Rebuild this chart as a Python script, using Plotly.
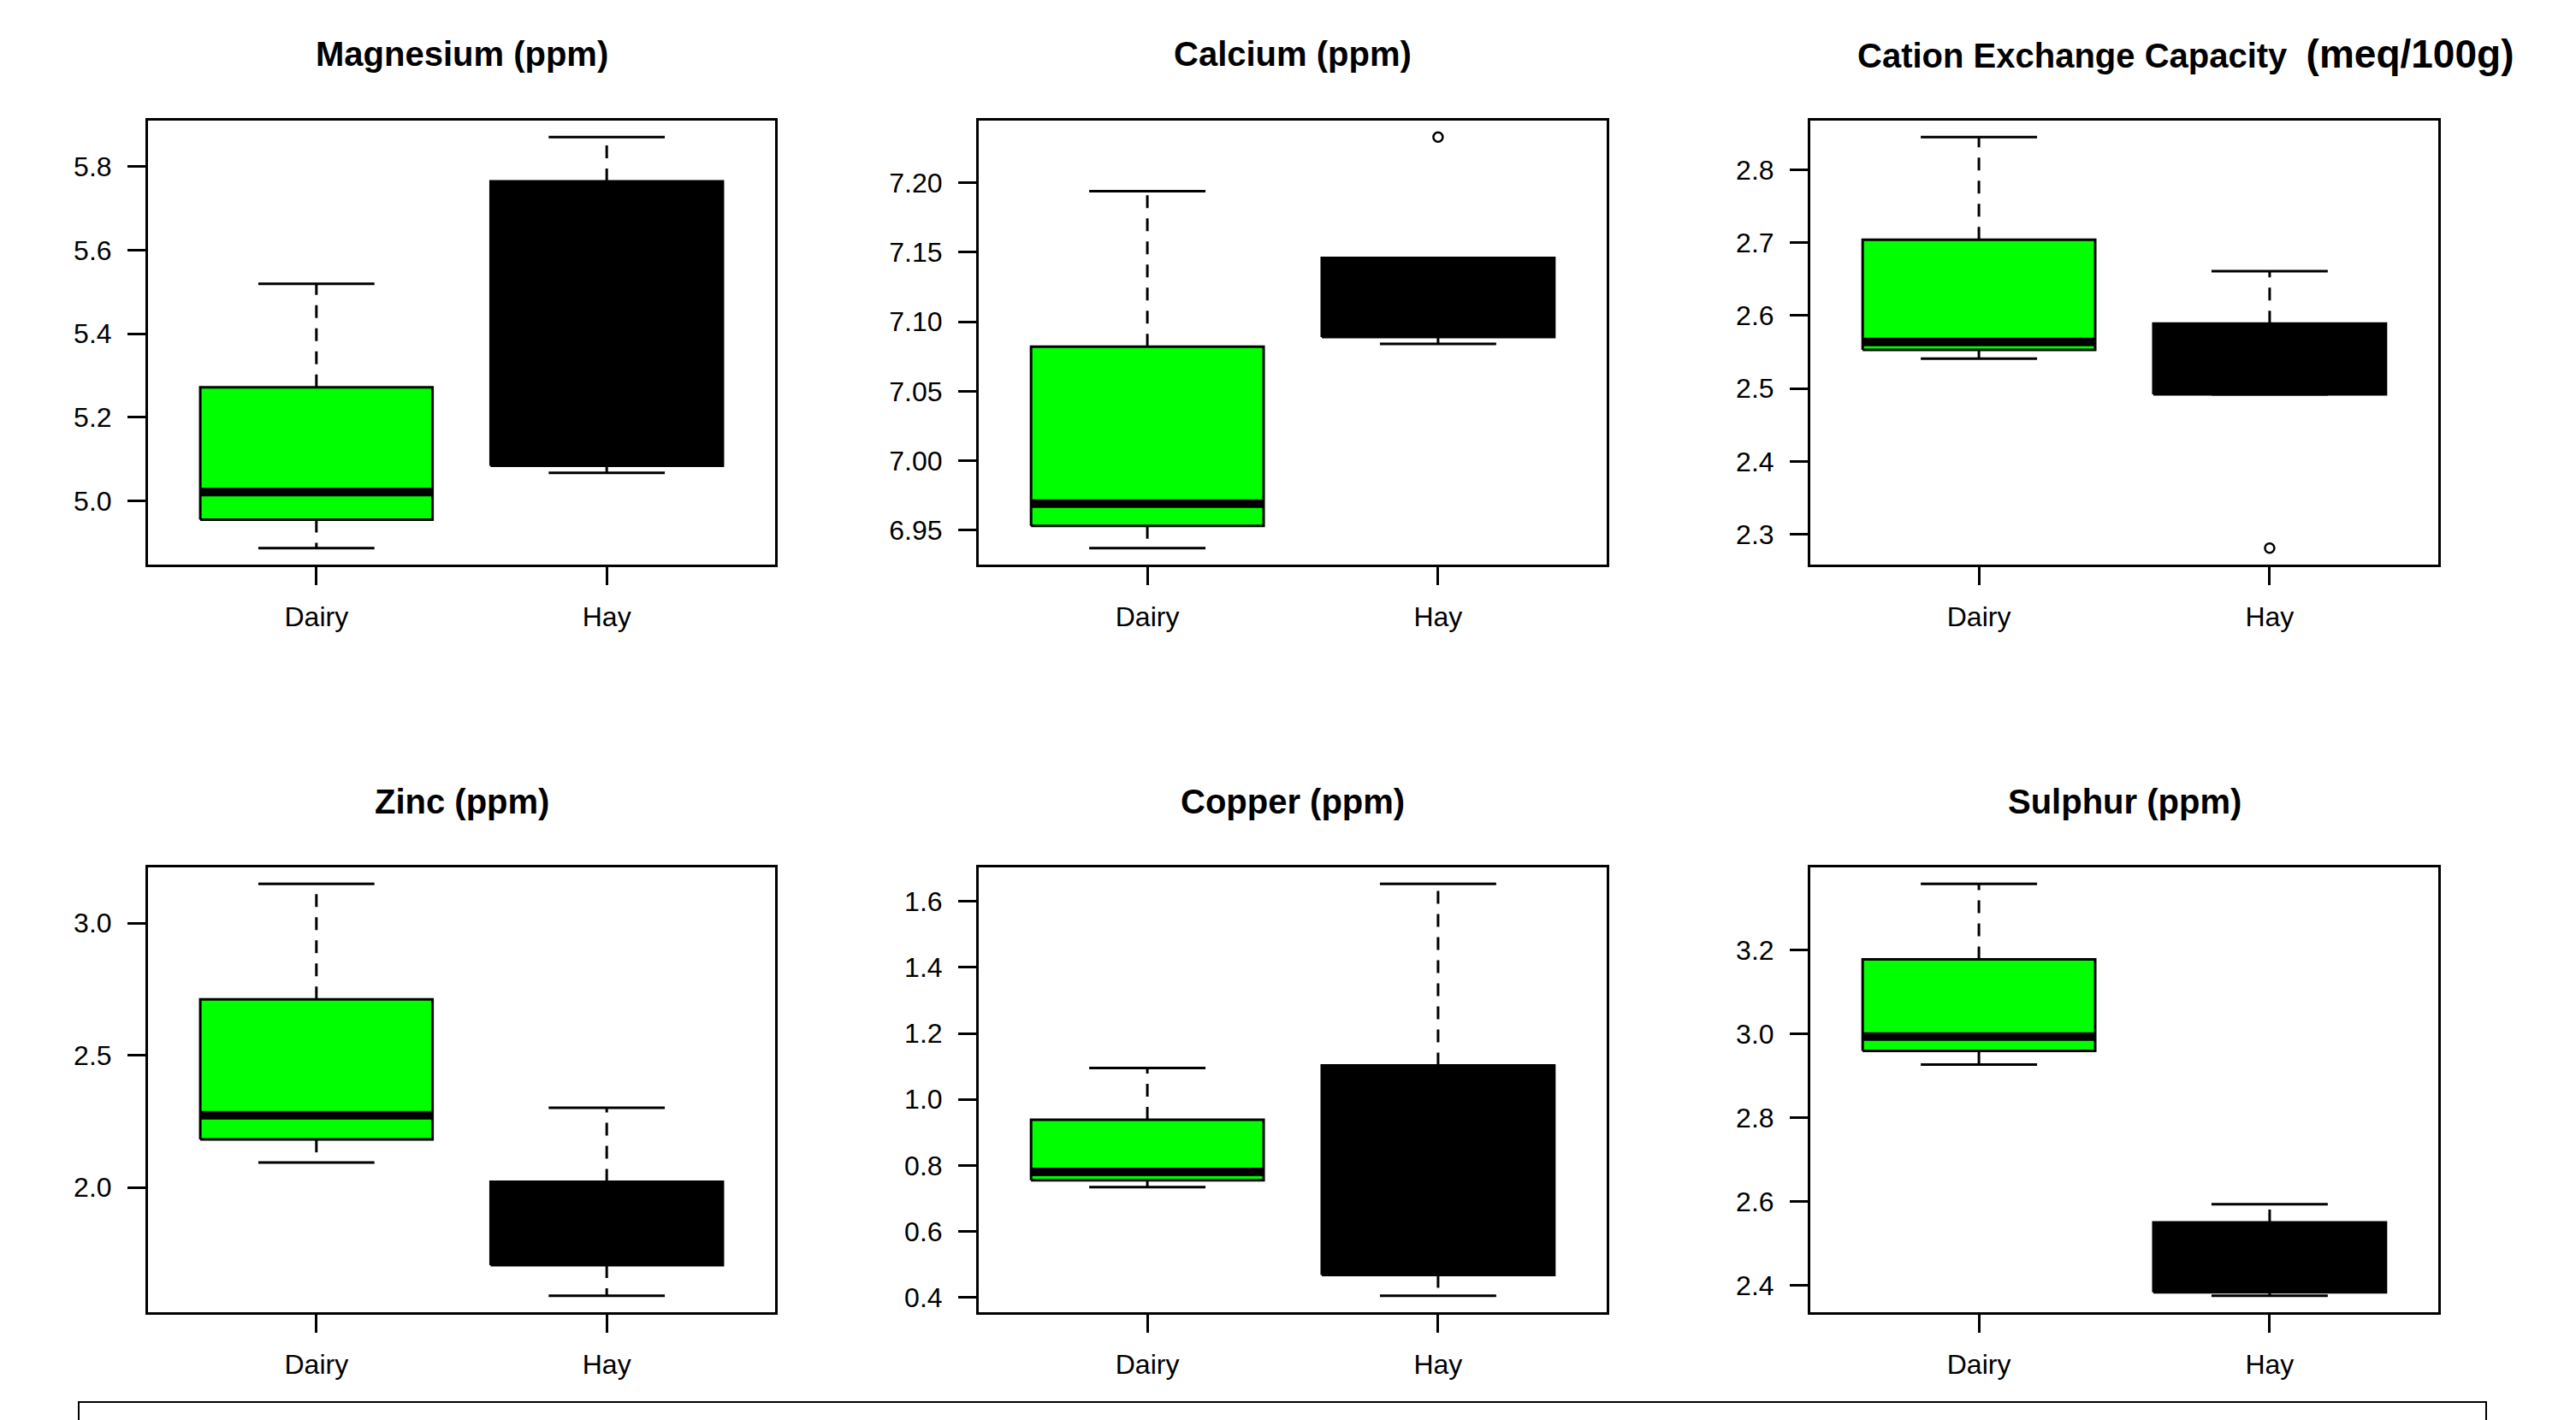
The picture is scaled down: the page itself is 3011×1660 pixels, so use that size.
import plotly.graph_objects as go

W, H = 3011, 1660
FONT = "Liberation Sans, Arial, sans-serif"

groups = ["Dairy", "Hay"]
fills = ["#00FF00", "#000000"]

titles = ["Magnesium (ppm)", "Calcium (ppm)", "Cation Exchange Capacity",
          "Zinc (ppm)", "Copper (ppm)", "Sulphur (ppm)"]
title_extra = ["", "", "(meq/100g)", "", "", ""]

# box statistics per panel, each list = [Dairy, Hay]
lower_whisker = [[4.887, 5.067], [6.937, 7.084], [2.541, 2.492],
                 [2.094, 1.590], [0.734, 0.405], [2.927, 2.376]]
q1 = [[4.955, 5.084], [6.953, 7.089], [2.553, 2.492],
      [2.181, 1.706], [0.755, 0.468], [2.960, 2.384]]
median = [[5.021, 5.450], [6.969, 7.120], [2.564, 2.550],
          [2.273, 1.850], [0.780, 0.750], [2.994, 2.450]]
q3 = [[5.272, 5.765], [7.082, 7.146], [2.704, 2.589],
      [2.711, 2.021], [0.938, 1.103], [3.178, 2.551]]
upper_whisker = [[5.520, 5.871], [7.194, 7.146], [2.845, 2.661],
                 [3.148, 2.301], [1.095, 1.653], [3.358, 2.594]]
outliers = [[[], []], [[], [7.233]], [[], [2.281]],
            [[], []], [[], []], [[], []]]

y_ticks = [[5.0, 5.2, 5.4, 5.6, 5.8],
           [6.95, 7.00, 7.05, 7.10, 7.15, 7.20],
           [2.3, 2.4, 2.5, 2.6, 2.7, 2.8],
           [2.0, 2.5, 3.0],
           [0.4, 0.6, 0.8, 1.0, 1.2, 1.4, 1.6],
           [2.4, 2.6, 2.8, 3.0, 3.2]]
y_tick_labels = [["5.0", "5.2", "5.4", "5.6", "5.8"],
                 ["6.95", "7.00", "7.05", "7.10", "7.15", "7.20"],
                 ["2.3", "2.4", "2.5", "2.6", "2.7", "2.8"],
                 ["2.0", "2.5", "3.0"],
                 ["0.4", "0.6", "0.8", "1.0", "1.2", "1.4", "1.6"],
                 ["2.4", "2.6", "2.8", "3.0", "3.2"]]

# layout (pixels)
col_px = [(173, 906), (1144, 1878), (2116, 2850)]
row_px = [(141, 660), (1014, 1534)]
title_y_px = [63, 937]

BOX_HW = 0.4
CAP_HW = 0.2

fig = go.Figure()
annotations = []

for p in range(6):
    r, c = divmod(p, 3)
    n = p + 1
    xa = "x" if n == 1 else f"x{n}"
    ya = "y" if n == 1 else f"y{n}"
    for g in range(2):
        cx = g + 1
        # whiskers (dashed)
        fig.add_trace(go.Scatter(
            x=[cx, cx, None, cx, cx],
            y=[q3[p][g], upper_whisker[p][g], None, q1[p][g], lower_whisker[p][g]],
            mode="lines", line=dict(color="black", width=3, dash="15px,12px"),
            xaxis=xa, yaxis=ya, showlegend=False, hoverinfo="skip"))
        # caps
        fig.add_trace(go.Scatter(
            x=[cx - CAP_HW, cx + CAP_HW, None, cx - CAP_HW, cx + CAP_HW],
            y=[upper_whisker[p][g], upper_whisker[p][g], None,
               lower_whisker[p][g], lower_whisker[p][g]],
            mode="lines", line=dict(color="black", width=3),
            xaxis=xa, yaxis=ya, showlegend=False, hoverinfo="skip"))
        # box
        fig.add_trace(go.Scatter(
            x=[cx - BOX_HW, cx + BOX_HW, cx + BOX_HW, cx - BOX_HW, cx - BOX_HW],
            y=[q1[p][g], q1[p][g], q3[p][g], q3[p][g], q1[p][g]],
            mode="lines", fill="toself", fillcolor=fills[g],
            line=dict(color="black", width=3),
            xaxis=xa, yaxis=ya, showlegend=False, hoverinfo="skip"))
        # median
        fig.add_trace(go.Scatter(
            x=[cx - BOX_HW, cx + BOX_HW], y=[median[p][g], median[p][g]],
            mode="lines", line=dict(color="black", width=10),
            xaxis=xa, yaxis=ya, showlegend=False, hoverinfo="skip"))
        # outliers
        if outliers[p][g]:
            fig.add_trace(go.Scatter(
                x=[cx] * len(outliers[p][g]), y=outliers[p][g], mode="markers",
                marker=dict(symbol="circle-open", size=11, color="black",
                            line=dict(width=2.5, color="black")),
                xaxis=xa, yaxis=ya, showlegend=False, hoverinfo="skip"))

    vals = [v for g in range(2) for v in
            [lower_whisker[p][g], upper_whisker[p][g]] + outliers[p][g]]
    lo, hi = min(vals), max(vals)
    ext = 0.04 * (hi - lo)

    x0, x1 = col_px[c]
    y0, y1 = row_px[r]
    xd = [x0 / W, x1 / W]
    yd = [1 - y1 / H, 1 - y0 / H]
    axis_common = dict(showline=True, linecolor="black", linewidth=3, mirror=True,
                       ticks="outside", ticklen=21, tickwidth=3, tickcolor="black",
                       showgrid=False, zeroline=False,
                       tickfont=dict(family=FONT, size=32, color="black"))
    fig.layout[("xaxis" if n == 1 else f"xaxis{n}")] = dict(
        domain=xd, anchor=ya, range=[0.42, 2.58], tickvals=[1, 2],
        ticktext=groups, ticklabelstandoff=10, **axis_common)
    fig.layout[("yaxis" if n == 1 else f"yaxis{n}")] = dict(
        domain=yd, anchor=xa, range=[lo - ext, hi + ext],
        tickvals=y_ticks[p], ticktext=y_tick_labels[p],
        ticklabelstandoff=12, **axis_common)

    if title_extra[p]:
        text = (f"<b>{titles[p]}</b>  <b><span style='font-size:46px'>"
                f"{title_extra[p]}</span></b>")
        annotations.append(dict(text=text, x=2169 / W, xanchor="left",
                                y=1 - title_y_px[r] / H, yanchor="middle",
                                xref="paper", yref="paper", showarrow=False,
                                font=dict(family=FONT, size=40, color="black")))
    else:
        annotations.append(dict(text=f"<b>{titles[p]}</b>", x=(x0 + x1) / 2 / W,
                                xanchor="center", y=1 - title_y_px[r] / H,
                                yanchor="middle", xref="paper", yref="paper",
                                showarrow=False,
                                font=dict(family=FONT, size=40, color="black")))

fig.update_layout(
    width=W, height=H, margin=dict(l=0, r=0, t=0, b=0),
    paper_bgcolor="white", plot_bgcolor="white",
    annotations=annotations, showlegend=False,
    shapes=[dict(type="rect", xref="paper", yref="paper",
                 x0=92 / W, x1=2906 / W, y0=-0.05, y1=1 - 1639 / H,
                 line=dict(color="black", width=2))],
)

fig.write_html("out.html")
